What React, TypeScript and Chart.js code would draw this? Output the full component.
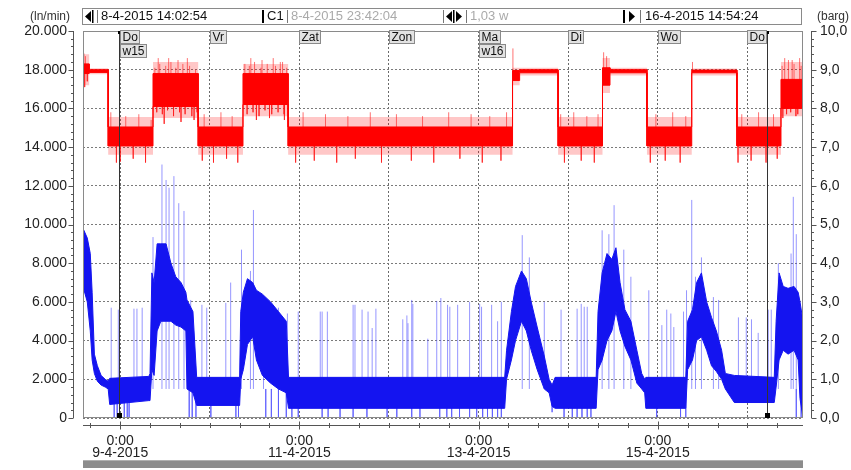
import React, { useEffect, useRef } from 'react';
import { Chart, registerables } from 'chart.js';

Chart.register(...registerables);

const FONT = '"Liberation Sans", Arial, Helvetica, sans-serif';

// ---- time axis: hours after 9-4-2015 0:00 ----
const timeMin = -9.95; // 8-4-2015 14:02:54
const timeMax = 182.9; // 16-4-2015 14:54:24
const tickStepHours = 8;
const dateLabels = ['9-4-2015', '11-4-2015', '13-4-2015', '15-4-2015'];
const dayNames = ['Do', 'Vr', 'Zat', 'Zon', 'Ma', 'Di', 'Wo', 'Do'];
const weekNames = ['w15', '', '', '', 'w16', '', '', ''];
const cursorTimes = [-0.3, 173.3];

// ---- header texts ----
const headerLeftUnit = '(ln/min)';
const headerRightUnit = '(barg)';
const headerStart = '8-4-2015 14:02:54';
const headerCursorName = 'C1';
const headerCursor = '8-4-2015 23:42:04';
const headerSpan = '1,03 w';
const headerEnd = '16-4-2015 14:54:24';

// ---- axes ----
const flowMax = 20000;
const flowStep = 2000;
const flowMinor = 400;
const pressMax = 10;
const pressStep = 1;
const pressMinor = 0.2;

// ---- pressure (barg): segments with a dense core band and a fuzzy outer band ----
const redStart = [-9.95, -8.3, -3.2, 8.8, 20.9, 32.9, 45.0, 105.1, 107.0, 117.3, 129.2, 131.2, 141.1, 153.1, 165.2, 177.0];
const redEnd = [-8.3, -3.2, 8.8, 20.9, 32.9, 45.0, 105.1, 107.0, 117.3, 129.2, 131.2, 141.1, 153.1, 165.2, 177.0, 182.9];
const redCoreLo = [8.9, 8.93, 7.03, 8.05, 7.03, 8.1, 7.03, 8.72, 8.92, 7.03, 8.6, 8.92, 7.03, 8.92, 7.03, 8.0];
const redCoreHi = [9.15, 9.0, 7.52, 8.9, 7.52, 8.9, 7.52, 8.98, 9.0, 7.52, 9.05, 9.0, 7.52, 8.99, 7.52, 8.75];
const redOuterLo = [8.6, 8.88, 6.8, 7.75, 6.8, 7.8, 6.8, 8.6, 8.85, 6.8, 8.4, 8.85, 6.8, 8.85, 6.8, 7.8];
const redOuterHi = [9.4, 9.04, 7.78, 9.2, 7.78, 9.15, 7.78, 9.05, 9.05, 7.78, 9.3, 9.05, 7.78, 9.03, 7.78, 9.2];

const redSpikeT = [-9.7, -9.5, -9.3, -8.8, -2.5, -1.0, 0.0, 1.5, 3.5, 5.0, 6.8, 8.3, 9.3, 9.8, 10.2, 10.6, 11.3, 11.8, 12.2, 12.7, 13.0, 13.6, 14.3, 14.9, 15.5, 15.9, 16.3, 16.8, 17.4, 18.0, 18.6, 19.2, 19.8, 20.2, 20.6, 22.0, 22.5, 25.0, 27.0, 28.5, 30.0, 31.5, 33.4, 34.0, 34.6, 35.0, 35.6, 36.0, 36.5, 37.2, 37.7, 38.0, 38.8, 39.4, 40.0, 40.6, 41.0, 41.6, 42.3, 42.9, 43.5, 43.9, 44.0, 44.6, 47, 49, 52, 55, 58, 61, 63, 67, 70, 74, 78, 81, 84, 88, 91, 94, 97, 99, 102, 103.5, 105.2, 118, 119, 121.5, 123.5, 125, 127, 128, 129.5, 130.3, 142, 143.5, 146, 148, 150, 151.5, 153.3, 165.5, 166.5, 169, 171, 173, 175, 176, 177.3, 177.5, 178, 178.5, 179.0, 179.6, 180, 180.5, 181, 181.5, 182, 182.4];
const redSpikeV = [9.42, 8.55, 9.35, 8.7, 7.9, 6.6, 6.62, 7.8, 6.7, 7.85, 6.6, 7.7, 9.05, 7.9, 9.3, 9.15, 7.85, 7.6, 9.1, 7.95, 9.3, 9.2, 7.8, 9.05, 9.25, 7.9, 7.65, 9.15, 7.85, 9.3, 9.1, 7.8, 7.7, 9.0, 7.9, 6.65, 7.85, 6.6, 7.9, 6.7, 7.8, 6.6, 9.15, 7.85, 9.1, 9.3, 7.9, 9.2, 7.7, 7.8, 9.05, 9.25, 7.95, 9.15, 7.75, 7.85, 9.3, 9.1, 7.9, 9.2, 9.2, 7.85, 7.7, 9.05, 6.6, 7.9, 6.65, 7.85, 6.6, 7.8, 6.7, 7.9, 6.6, 7.85, 6.65, 7.8, 6.6, 7.9, 6.7, 7.85, 6.6, 7.8, 6.65, 7.9, 9.55, 7.85, 6.6, 7.9, 6.65, 7.8, 6.6, 7.85, 9.45, 9.35, 6.6, 7.85, 6.65, 7.9, 6.6, 7.8, 9.2, 6.6, 7.85, 6.65, 7.9, 6.6, 7.85, 6.7, 9.1, 7.75, 9.3, 7.85, 9.25, 7.9, 9.25, 9.15, 7.8, 7.85, 9.3, 9.1];

// ---- flow (ln/min): dense band envelope ----
const blueT = [-9.95, -8.8, -8.0, -7.5, -6.9, -6.1, -5.1, -4.0, -3.2, -2.8, 7.7, 8.0, 8.5, 9.1, 9.9, 10.9, 12.3, 13.6, 14.9, 16.3, 17.6, 17.9, 19.5, 20.5, 32.0, 32.3, 33.0, 34.1, 35.5, 36.5, 38.1, 40.3, 42.4, 44.5, 45.1, 103.0, 103.5, 104.8, 105.9, 107.5, 108.8, 110.1, 111.7, 113.6, 114.9, 115.7, 116.5, 127.5, 128.0, 129.1, 130.4, 131.7, 132.8, 133.9, 135.2, 136.8, 138.4, 139.7, 140.5, 140.8, 151.5, 152.0, 153.3, 154.4, 155.7, 157.1, 158.4, 159.7, 161.1, 162.1, 164.5, 175.2, 175.7, 176.5, 177.6, 178.9, 180.5, 181.6, 182.1, 182.9];
const blueLo = [6800, 6000, 4500, 3000, 2300, 1900, 1700, 1600, 1500, 700, 900, 900, 2500, 2200, 4500, 5000, 5000, 5000, 4800, 4700, 4500, 1500, 1300, 650, 650, 2000, 2500, 3800, 4200, 3000, 2200, 1800, 1500, 1300, 500, 500, 2000, 3000, 4000, 5000, 4500, 3500, 2500, 1500, 1300, 600, 500, 500, 2500, 3000, 4000, 4500, 5500, 4500, 3700, 3000, 1800, 1500, 1300, 500, 500, 2500, 3000, 4000, 4200, 3500, 2700, 2400, 2000, 1500, 800, 800, 1600, 3000, 3500, 3300, 3500, 3000, 1000, 0];
const blueHi = [9800, 9300, 8500, 6500, 3300, 2700, 2200, 2000, 1900, 2050, 2150, 2300, 7500, 7000, 9000, 9000, 9000, 8000, 7300, 7000, 6500, 6100, 5500, 2100, 2100, 5500, 6500, 7200, 7000, 6600, 6400, 6000, 5500, 5000, 2100, 2100, 3500, 5500, 6800, 7600, 7200, 6000, 4700, 3200, 2000, 1700, 2100, 2100, 5500, 7500, 8500, 8200, 8800, 7000, 5600, 5000, 3500, 2300, 2000, 2100, 2100, 5000, 5600, 7000, 7500, 6000, 5200, 4500, 3500, 2300, 2200, 2100, 5000, 7500, 6800, 6700, 6800, 6500, 6000, 5000];

// flow spikes (light lines above the band)
const blueSpikeT = [-2.4, -0.5, 3.7, 4.5, 5.9, 8.8, 11.2, 12.3, 13.1, 14.4, 15.7, 17.1, 18.9, 21.9, 23.2, 28.3, 29.6, 32.5, 34.9, 35.7, 38.4, 42.4, 44.8, 47.7, 53.6, 54.1, 55.5, 62.4, 62.9, 64.8, 66.4, 67.5, 68.5, 75.7, 76.8, 77.1, 78.1, 78.4, 82.4, 84.8, 85.9, 87.7, 88.3, 90.4, 93.6, 96.3, 96.8, 99.5, 101.1, 102.1, 107.7, 109.6, 113.6, 118.1, 122.4, 123.5, 124.3, 125.1, 129.1, 130.9, 132.3, 134.9, 136.8, 141.6, 145.1, 146.4, 147.5, 148.3, 150.9, 151.7, 153.1, 154.1, 155.7, 158.9, 160.3, 165.6, 167.7, 169.1, 170.9, 173.6, 174.4, 176.3, 179.7, 180.3, 181.1];
const blueSpikeV = [5700, 5600, 5650, 5650, 5700, 9350, 13100, 12300, 11900, 12500, 11100, 10700, 6100, 5850, 5700, 5950, 7000, 8700, 7600, 10750, 6300, 5700, 5400, 5500, 5500, 5500, 5500, 5850, 5850, 5600, 5500, 4650, 5650, 5100, 5300, 4900, 6100, 5900, 4100, 6050, 6200, 5850, 5750, 5850, 6000, 5900, 5750, 5850, 5000, 6000, 9450, 8300, 6000, 5600, 5650, 5900, 5750, 5750, 9700, 9500, 11000, 8700, 7300, 6600, 4800, 5600, 5400, 4700, 5500, 6600, 11270, 7300, 8300, 6250, 6100, 5200, 5200, 5100, 4400, 5600, 5600, 8000, 8500, 11430, 9500];
const blueSpikeBase = 1500;

// flow dips (light lines from the band down to zero)
const blueDipT = [-1.6, -0.8, 1.1, 1.9, 2.4, 18.5, 19.3, 20.3, 24.3, 31.0, 31.7, 39.0, 40.5, 42.4, 44.5, 46.0, 47.7, 54.1, 55.7, 58.9, 62.4, 66.1, 71.5, 74.1, 78.1, 80.3, 85.6, 87.5, 88.8, 90.9, 93.6, 95.5, 97.1, 98.4, 99.7, 101.1, 102.1, 115.7, 118.9, 121.1, 122.4, 123.7, 125.1, 126.1, 143.7, 150.1, 151.5, 181.1, 182.4];
const blueDipV = [0, 0, 0, 0, 0, 0, 0, 0, 0, 0, 0, 0, 0, 0, 0, 0, 0, 0, 0, 0, 0, 0, 0, 0, 0, 0, 0, 0, 0, 0, 0, 0, 0, 0, 0, 0, 0, 300, 0, 0, 0, 0, 0, 0, 0, 0, 0, 0, 0];

// ---- helpers that turn the arrays into library data ----
type P = { x: number; y: number | null };
function stepEnvelope(starts: number[], ends: number[], vals: number[]): P[] {
  const pts: P[] = [];
  for (let i = 0; i < starts.length; i++) {
    pts.push({ x: starts[i], y: vals[i] }, { x: ends[i], y: vals[i] });
  }
  return pts;
}
function pathEnvelope(ts: number[], vals: number[]): P[] {
  return ts.map((t, i) => ({ x: t, y: vals[i] }));
}
function redBase(t: number): number {
  for (let i = 0; i < redStart.length; i++) {
    if (t >= redStart[i] && t < redEnd[i]) return (redCoreLo[i] + redCoreHi[i]) / 2;
  }
  return 7.25;
}
function spikeLines(ts: number[], vals: number[], base: (t: number) => number): P[] {
  const pts: P[] = [];
  ts.forEach((t, i) => {
    pts.push({ x: t, y: base(t) }, { x: t, y: vals[i] }, { x: t, y: null });
  });
  return pts;
}
function formatFlow(v: number): string {
  if (v < 1000) return String(v);
  return `${Math.floor(v / 1000)}.${String(v % 1000).padStart(3, '0')}`;
}

const RED = '#ff0000';
const BLUE = '#1414f0';

const decoPlugin = {
  id: 'deco',
  afterDraw(chart: any) {
    const { ctx, chartArea: a, scales } = chart;
    const xs = scales.x;
    const ys = scales.y;
    const y1s = scales.y1;
    ctx.save();

    // plot frame
    ctx.strokeStyle = '#8a8a8a';
    ctx.lineWidth = 1;
    ctx.setLineDash([]);
    ctx.strokeRect(a.left + 0.5, a.top + 0.5, a.right - a.left - 1, a.bottom - a.top - 1);

    // cursors
    cursorTimes.forEach((t) => {
      const px = Math.round(xs.getPixelForValue(t)) + 0.5;
      ctx.strokeStyle = '#333';
      ctx.beginPath();
      ctx.moveTo(px, a.top);
      ctx.lineTo(px, a.bottom);
      ctx.stroke();
      ctx.fillStyle = '#000';
      ctx.fillRect(px - 1.5, a.top, 3, 3);
      ctx.fillRect(px - 2.5, a.bottom - 5, 5, 5);
    });

    // day labels
    ctx.font = `12px ${FONT}`;
    ctx.textBaseline = 'middle';
    ctx.textAlign = 'left';
    dayNames.forEach((d, i) => {
      const px = Math.round(xs.getPixelForValue(i * 24)) + 0.5;
      const lines = weekNames[i] ? [d, weekNames[i]] : [d];
      lines.forEach((txt, j) => {
        const w = Math.round(ctx.measureText(txt).width + 4);
        const top = a.top - 1 + j * 14;
        ctx.fillStyle = '#e2e2e2';
        ctx.fillRect(px, top, w, 14);
        ctx.strokeStyle = '#8a8a8a';
        ctx.strokeRect(px, top + 0.5, w, 13);
        ctx.fillStyle = '#111';
        ctx.fillText(txt, px + 2, top + 7.5);
      });
    });

    // left axis line + ticks
    ctx.strokeStyle = '#555';
    const lx = a.left - 9.5;
    ctx.beginPath();
    ctx.moveTo(lx, ys.getPixelForValue(flowMax));
    ctx.lineTo(lx, ys.getPixelForValue(0));
    for (let v = 0; v <= flowMax; v += flowMinor) {
      const py = Math.round(ys.getPixelForValue(v)) + 0.5;
      const len = v % flowStep === 0 ? 5 : 2.5;
      ctx.moveTo(lx - len, py);
      ctx.lineTo(lx, py);
    }
    ctx.stroke();

    // right axis line + ticks
    const rx = a.right + 8.5;
    ctx.beginPath();
    ctx.moveTo(rx, y1s.getPixelForValue(pressMax));
    ctx.lineTo(rx, y1s.getPixelForValue(0));
    for (let k = 0; k <= pressMax / pressMinor + 0.001; k++) {
      const v = k * pressMinor;
      const py = Math.round(y1s.getPixelForValue(v)) + 0.5;
      const len = k % Math.round(pressStep / pressMinor) === 0 ? 5 : 2.5;
      ctx.moveTo(rx, py);
      ctx.lineTo(rx + len, py);
    }
    ctx.stroke();

    // bottom axis line + ticks
    const by = a.bottom + 7.5;
    ctx.beginPath();
    ctx.moveTo(a.left, by);
    ctx.lineTo(a.right, by);
    xs.ticks.forEach((tk: any) => {
      const px = Math.round(xs.getPixelForValue(tk.value)) + 0.5;
      const major = tk.value % 48 === 0;
      ctx.moveTo(px, by - (major ? 4 : 2.5));
      ctx.lineTo(px, by + (major ? 4 : 2.5));
    });
    ctx.stroke();

    // scrollbar
    ctx.fillStyle = '#8c8c8c';
    ctx.fillRect(a.left, 460, a.right - a.left, 8);
    ctx.fillStyle = '#b0b0b0';
    ctx.fillRect(a.left, 460, a.right - a.left, 1);

    // header
    ctx.font = `12px ${FONT}`;
    ctx.fillStyle = '#333';
    ctx.fillText(headerLeftUnit, 30, 16.5);
    ctx.fillText(headerRightUnit, 817, 16.5);

    const hTop = 8.5;
    const hH = 16;
    ctx.fillStyle = '#fff';
    ctx.fillRect(a.left - 0.5, hTop, 719, hH);
    ctx.strokeStyle = '#8a8a8a';
    ctx.strokeRect(a.left - 0.5, hTop, 719, hH);
    const tri = (x0: number, dir: number) => {
      ctx.fillStyle = '#000';
      ctx.beginPath();
      if (dir < 0) {
        ctx.moveTo(x0, 16.5);
        ctx.lineTo(x0 + 6, 11);
        ctx.lineTo(x0 + 6, 22);
      } else {
        ctx.moveTo(x0 + 6, 16.5);
        ctx.lineTo(x0, 11);
        ctx.lineTo(x0, 22);
      }
      ctx.closePath();
      ctx.fill();
    };
    const vbar = (x0: number, w: number, col: string) => {
      ctx.fillStyle = col;
      ctx.fillRect(x0, 10, w, 13);
    };
    ctx.font = `13px ${FONT}`;
    // cell 1
    tri(85, -1);
    vbar(92, 1.5, '#000');
    vbar(97, 1, '#777');
    ctx.fillStyle = '#111';
    ctx.fillText(headerStart, 101, 16.5);
    // cell 2
    vbar(262, 2, '#000');
    ctx.fillStyle = '#111';
    ctx.fillText(headerCursorName, 267, 16.5);
    vbar(287, 1, '#777');
    ctx.fillStyle = '#aaa';
    ctx.fillText(headerCursor, 291, 16.5);
    // cell 3
    vbar(443, 1, '#777');
    tri(446, -1);
    vbar(453, 1.5, '#000');
    tri(456, 1);
    vbar(466, 1, '#777');
    ctx.fillStyle = '#aaa';
    ctx.fillText(headerSpan, 470, 16.5);
    // cell 4
    vbar(623, 2, '#000');
    tri(629, 1);
    vbar(640, 1, '#777');
    ctx.fillStyle = '#111';
    ctx.fillText(headerEnd, 645, 16.5);

    ctx.restore();
  },
};

export default function App() {
  const ref = useRef<HTMLCanvasElement | null>(null);

  useEffect(() => {
    document.body.style.margin = '0';
    const canvas = ref.current;
    if (!canvas) return;
    const common = { pointRadius: 0, pointHoverRadius: 0, tension: 0, spanGaps: false };
    const chart = new Chart(canvas, {
      type: 'line',
      data: {
        datasets: [
          { ...common, label: 'p core hi', data: stepEnvelope(redStart, redEnd, redCoreHi), yAxisID: 'y1', borderColor: RED, borderWidth: 1, fill: false, order: 1 },
          { ...common, label: 'p core lo', data: stepEnvelope(redStart, redEnd, redCoreLo), yAxisID: 'y1', borderColor: RED, borderWidth: 1, backgroundColor: RED, fill: '-1', order: 1 },
          { ...common, label: 'p outer hi', data: stepEnvelope(redStart, redEnd, redOuterHi), yAxisID: 'y1', borderColor: 'rgba(0,0,0,0)', borderWidth: 0, fill: false, order: 3 },
          { ...common, label: 'p outer lo', data: stepEnvelope(redStart, redEnd, redOuterLo), yAxisID: 'y1', borderColor: 'rgba(0,0,0,0)', borderWidth: 0, backgroundColor: 'rgba(255,0,0,0.22)', fill: '-1', order: 3 },
          { ...common, label: 'p spikes', data: spikeLines(redSpikeT, redSpikeV, redBase), yAxisID: 'y1', borderColor: 'rgba(255,20,20,0.6)', borderWidth: 1, fill: false, order: 2 },
          { ...common, label: 'q hi', data: pathEnvelope(blueT, blueHi), yAxisID: 'y', borderColor: BLUE, borderWidth: 1, fill: false, order: 5 },
          { ...common, label: 'q lo', data: pathEnvelope(blueT, blueLo), yAxisID: 'y', borderColor: BLUE, borderWidth: 1, backgroundColor: BLUE, fill: '-1', order: 5 },
          { ...common, label: 'q spikes', data: spikeLines(blueSpikeT, blueSpikeV, () => blueSpikeBase), yAxisID: 'y', borderColor: 'rgba(80,80,255,0.6)', borderWidth: 1, fill: false, order: 6 },
          { ...common, label: 'q dips', data: spikeLines(blueDipT, blueDipV, () => blueSpikeBase), yAxisID: 'y', borderColor: 'rgba(80,80,255,0.6)', borderWidth: 1, fill: false, order: 6 },
        ],
      },
      options: {
        responsive: false,
        animation: false,
        devicePixelRatio: 1,
        events: [],
        layout: { padding: { top: 31, left: 0, right: 0, bottom: 0 } },
        plugins: { legend: { display: false }, tooltip: { enabled: false }, title: { display: false } },
        scales: {
          x: {
            type: 'linear',
            min: timeMin,
            max: timeMax,
            afterFit: (s: any) => { s.height = 52; },
            grid: {
              color: (c: any) => (c.tick && Math.round(c.tick.value) % 24 === 0 ? '#6a6a6a' : 'rgba(0,0,0,0)'),
              lineWidth: 1,
              drawTicks: false,
            },
            border: { display: false, dash: [2, 2] },
            ticks: {
              stepSize: tickStepHours,
              includeBounds: false,
              autoSkip: false,
              maxRotation: 0,
              padding: 17,
              color: '#222',
              font: { family: FONT, size: 14, lineHeight: 0.86 },
              callback: (v: any) => {
                const n = Number(v);
                return n % 48 === 0 ? ['0:00', dateLabels[n / 48]] : '';
              },
            },
          },
          y: {
            position: 'left',
            min: 0,
            max: flowMax,
            afterFit: (s: any) => { s.width = 83; },
            grid: { color: '#7a7a7a', drawTicks: false },
            border: { display: false, dash: [2, 2] },
            ticks: {
              stepSize: flowStep,
              padding: 16,
              color: '#222',
              font: { family: FONT, size: 14 },
              callback: (v: any) => formatFlow(Number(v)),
            },
          },
          y1: {
            position: 'right',
            min: 0,
            max: pressMax,
            afterFit: (s: any) => { s.width = 48; },
            grid: { drawOnChartArea: false, drawTicks: false },
            border: { display: false },
            ticks: {
              stepSize: pressStep,
              padding: 17,
              color: '#222',
              font: { family: FONT, size: 14 },
              callback: (v: any) => Number(v).toFixed(1).replace('.', ','),
            },
          },
        },
      },
      plugins: [decoPlugin],
    } as any);
    return () => chart.destroy();
  }, []);

  return (
    <div style={{ position: 'fixed', left: 0, top: 0, width: 851, height: 470, background: '#fff' }}>
      <canvas ref={ref} width={851} height={470} style={{ display: 'block', width: 851, height: 470 }} />
    </div>
  );
}
